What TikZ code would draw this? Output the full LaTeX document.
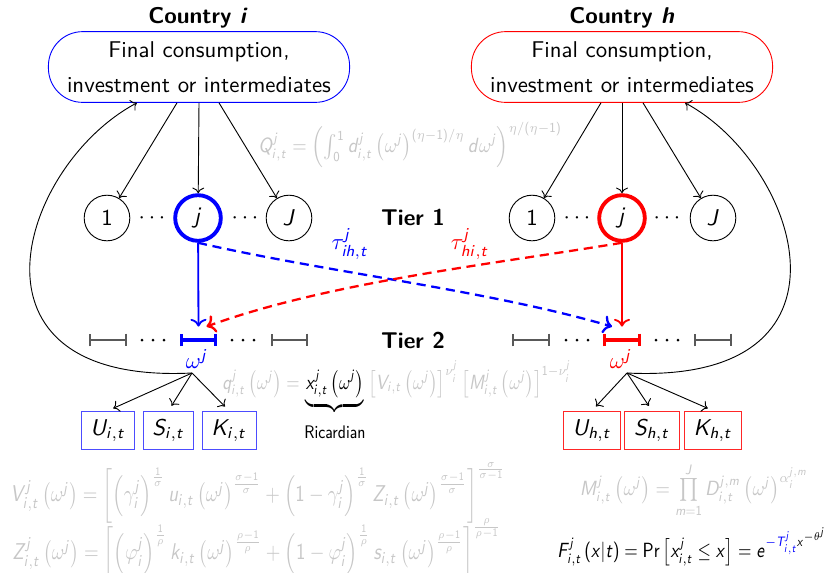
\documentclass[tikz,border=0pt]{standalone}
\usepackage{graphicx}
\usetikzlibrary{calc,arrows.meta}
\renewcommand{\familydefault}{\sfdefault}
\DeclareSymbolFont{sfletters}{OT1}{cmss}{m}{sl}
\SetSymbolFont{operators}{normal}{OT1}{cmss}{m}{n}
\makeatletter
\@tempcnta=`a
\loop
\mathcode\@tempcnta=\numexpr "7000+256*\symsfletters+\@tempcnta\relax
\advance\@tempcnta 1
\ifnum\@tempcnta<123 \repeat
\@tempcnta=`A
\loop
\mathcode\@tempcnta=\numexpr "7000+256*\symsfletters+\@tempcnta\relax
\advance\@tempcnta 1
\ifnum\@tempcnta<91 \repeat
\makeatother
\colorlet{fgray}{black!22}
\colorlet{igray}{black!65}
\tikzset{
 cbox/.style={draw, rounded corners=15pt, minimum width=132pt, minimum height=31pt, align=center, inner sep=0pt},
 sect/.style={draw, circle, minimum size=20pt, inner sep=0pt},
 hsect/.style={sect, line width=1.7pt},
 fbox/.style={draw, minimum height=17pt, inner xsep=4.1pt, inner ysep=0pt},
 ivl/.style={minimum width=16pt, minimum height=11.4pt, inner sep=0pt},
 ivbar/.style={{Bar[width=5.5pt]}-{Bar[width=5.5pt]}},
 arr/.style={->},
 garr/.style={->, thick},
 darr/.style={->, line width=1pt, dash pattern=on 4pt off 2.5pt},
 frm/.style={text=fgray, inner sep=0pt},
 tier/.style={font=\bfseries},
 ctry/.style={font=\bfseries},
}
\begin{document}
\begin{tikzpicture}[x=0.4383pt,y=-0.4383pt]
\useasboundingbox (0,0) rectangle (831,572);

% ---------- Country i ----------
\node[ctry] (ctryI) at (198,18) {Country \textit{i}};
\node[cbox, draw=blue] (boxI) at (199,67) {Final consumption,\\[3.3pt] investment or intermediates};
\node[sect] (c1I) at (107,218) {$1$};
\node (d1I) at (152,218) {$\cdots$};
\node[hsect, draw=blue] (cjI) at (198,218) {$j$};
\node (d2I) at (245,218) {$\cdots$};
\node[sect] (cJI) at (289,218) {$J$};
\draw[arr] ($(boxI.south)+(-22,0)$) -- (c1I);
\draw[arr] (boxI.south) -- (cjI);
\draw[arr] ($(boxI.south)+(20,0)$) -- (cJI);

\node[ivl] (g1I) at (108,340) {};
\node[ivl] (ivI) at (198.5,340) {};
\node[ivl] (g2I) at (289.5,340) {};
\draw[igray, thick, ivbar] (g1I.west) -- (g1I.east);
\draw[igray, thick, ivbar] (g2I.west) -- (g2I.east);
\draw[blue, line width=1.4pt, ivbar] (ivI.west) -- (ivI.east);
\foreach \x in {142,153,164,232,243,254} \fill (\x,340) circle (1.5);
\node[blue] (wI) at (197,359) {$\omega^j$};
\draw[garr, blue] (cjI) -- (ivI.north);

\coordinate (fanI) at (192,373);
\node[fbox, draw=blue!70] (UI) at (108,430.5) {$U_{i,t}$};
\node[fbox, draw=blue!70] (SI) at (168.5,430.5) {$S_{i,t}$};
\node[fbox, draw=blue!70] (KI) at (229,430.5) {$K_{i,t}$};
\foreach \n in {UI,SI,KI} \draw[arr, shorten >=2.5pt] (fanI) -- (\n.north);
\draw[arr] (fanI) .. controls (-50,385) and (20,165) .. ($(boxI.south)+(-62,0)$);

% ---------- Country h ----------
\node[ctry] (ctryH) at (622,18) {Country \textit{h}};
\node[cbox, draw=red] (boxH) at (622,67) {Final consumption,\\[3.3pt] investment or intermediates};
\node[sect] (c1H) at (532,218) {$1$};
\node (d1H) at (577,218) {$\cdots$};
\node[hsect, draw=red] (cjH) at (622,218) {$j$};
\node (d2H) at (667,218) {$\cdots$};
\node[sect] (cJH) at (713,218) {$J$};
\draw[arr] ($(boxH.south)+(-21,0)$) -- (c1H);
\draw[arr] (boxH.south) -- (cjH);
\draw[arr] ($(boxH.south)+(21,0)$) -- (cJH);

\node[ivl] (g1H) at (531,340) {};
\node[ivl] (ivH) at (622,340) {};
\node[ivl] (g2H) at (713,340) {};
\draw[igray, thick, ivbar] (g1H.west) -- (g1H.east);
\draw[igray, thick, ivbar] (g2H.west) -- (g2H.east);
\draw[red, line width=1.4pt, ivbar] (ivH.west) -- (ivH.east);
\foreach \x in {566,577,588,656,667,678} \fill (\x,340) circle (1.5);
\node[red] (wH) at (621,359) {$\omega^j$};
\draw[garr, red] (cjH) -- (ivH.north);

\coordinate (fanH) at (627,373);
\node[fbox, draw=red!85] (UH) at (592,430.5) {$U_{h,t}$};
\node[fbox, draw=red!85] (SH) at (652,430.5) {$S_{h,t}$};
\node[fbox, draw=red!85] (KH) at (713,430.5) {$K_{h,t}$};
\foreach \n in {UH,SH,KH} \draw[arr, shorten >=2.5pt] (fanH) -- (\n.north);
\draw[arr] (fanH) .. controls (870,385) and (800,165) .. ($(boxH.south)+(63,0)$);

% ---------- Tiers and trade ----------
\node[tier] (t1) at (413,217) {Tier 1};
\node[tier] (t2) at (413,340) {Tier 2};
\draw[darr, blue] (cjI.south) .. controls (325,272) and (487,290) .. ($(ivH.north)+(-10,0)$);
\draw[darr, red] (cjH.south) .. controls (494,264) and (329,282) .. ($(ivI.north)+(8,0)$);
\node[blue] (tauI) at (350,244) {$\tau^j_{ih,t}$};
\node[red] (tauH) at (470,244) {$\tau^j_{hi,t}$};

% ---------- Formulas ----------
\node[frm, font=\small] (Qf) at (410,145) {\resizebox{133pt}{\height}{$Q^j_{i,t}=\left(\int_0^1 d^j_{i,t}\left(\omega^j\right)^{(\eta-1)/\eta}d\omega^j\right)^{\eta/(\eta-1)}$}};
\node[frm, font=\small, anchor=base west] (qf) at (222,389) {\resizebox{153pt}{\height}{$q^j_{i,t}\left(\omega^j\right)={\color{black}\underbrace{x^j_{i,t}\left(\omega^j\right)}_{\mbox{\footnotesize\rule{0pt}{9pt}Ricardian}}}\left[V_{i,t}\left(\omega^j\right)\right]^{\nu^j_i}\left[M^j_{i,t}\left(\omega^j\right)\right]^{1-\nu^j_i}$}};
\node[frm, anchor=west] (Vf) at (10,493) {\resizebox{217pt}{\height}{$V^j_{i,t}\left(\omega^j\right)=\left[\left(\gamma^j_i\right)^{\frac{1}{\sigma}}u_{i,t}\left(\omega^j\right)^{\frac{\sigma-1}{\sigma}}+\left(1-\gamma^j_i\right)^{\frac{1}{\sigma}}Z_{i,t}\left(\omega^j\right)^{\frac{\sigma-1}{\sigma}}\right]^{\frac{\sigma}{\sigma-1}}$}};
\node[frm, anchor=west] (Zf) at (12,550) {\resizebox{214pt}{\height}{$Z^j_{i,t}\left(\omega^j\right)=\left[\left(\varphi^j_i\right)^{\frac{1}{\rho}}k_{i,t}\left(\omega^j\right)^{\frac{\rho-1}{\rho}}+\left(1-\varphi^j_i\right)^{\frac{1}{\rho}}s_{i,t}\left(\omega^j\right)^{\frac{\rho-1}{\rho}}\right]^{\frac{\rho}{\rho-1}}$}};
\node[frm, font=\small] (Mf) at (694,490) {\resizebox{100pt}{\height}{$M^j_{i,t}\left(\omega^j\right)=\prod\limits_{m=1}^{J}D^{j,m}_{i,t}\left(\omega^j\right)^{\alpha^{j,m}_i}$}};
\node[inner sep=0pt, font=\small] (Ff) at (692,547) {\resizebox{118pt}{\height}{$F^j_{i,t}\left(x|t\right)=\Pr\left[x^j_{i,t}\le x\right]=e^{{\color{blue}-T^j_{i,t}}x^{-\theta^j}}$}};
\end{tikzpicture}
\end{document}
